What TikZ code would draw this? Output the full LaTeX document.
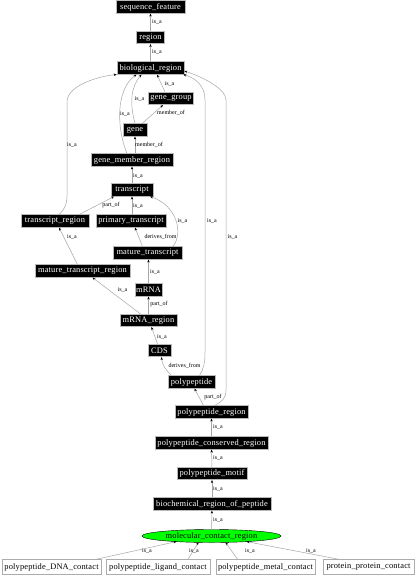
\documentclass[tikz,border=0pt]{standalone}
\usepackage{fontspec}
\setmainfont{Liberation Serif}
\newfontfamily\boxfont[LetterSpace=2]{Liberation Serif}
\usetikzlibrary{arrows.meta,shapes.geometric,calc}
\begin{document}
\begin{tikzpicture}[x=1pt,y=-1pt,
  blk/.style={rectangle,fill=black,draw=gray!55,line width=0.6pt,text=white,font=\boxfont\fontsize{8.4}{9}\selectfont,minimum height=12.5pt,inner sep=0pt},
  wht/.style={rectangle,fill=white,draw=gray!65,line width=0.6pt,text=black,font=\boxfont\fontsize{8.4}{9}\selectfont,minimum height=15pt,inner sep=0pt},
  grn/.style={ellipse,fill=green,draw=black,line width=0.4pt,font=\boxfont\fontsize{8.4}{9}\selectfont,minimum width=139pt,minimum height=13pt,inner sep=0pt},
  edge/.style={draw=gray!70,line width=0.5pt,-{Stealth[length=3pt,width=2.4pt,black]}},
  lbl/.style={font=\fontsize{6}{7}\selectfont,inner sep=0pt}]
\useasboundingbox[fill=white] (0,0) rectangle (417,576);

% nodes
\node[blk,minimum width=69pt] (sf) at (150.5,7) {sequence\_feature};
\node[blk,minimum width=28pt] (region) at (150.5,37.5) {region};
\node[blk,minimum width=67pt] (bio) at (150.5,68) {biological\_region};
\node[blk,minimum width=45pt] (gg) at (171,98.5) {gene\_group};
\node[blk,minimum width=24pt] (gene) at (135,130) {gene};
\node[blk,minimum width=82pt] (gmr) at (132,160) {gene\_member\_region};
\node[blk,minimum width=42pt] (transcript) at (132,190) {transcript};
\node[blk,minimum width=68pt] (tr) at (55,221) {transcript\_region};
\node[blk,minimum width=70pt] (pt) at (131,221) {primary\_transcript};
\node[blk,minimum width=69pt] (mt) at (147.5,253) {mature\_transcript};
\node[blk,minimum width=95pt] (mtr) at (82.5,271) {mature\_transcript\_region};
\node[blk,minimum width=27pt] (mrna) at (148.5,290) {mRNA};
\node[blk,minimum width=57pt] (mrr) at (148.5,320.5) {mRNA\_region};
\node[blk,minimum width=23pt] (cds) at (159.5,350.5) {CDS};
\node[blk,minimum width=47pt] (pp) at (191.5,382) {polypeptide};
\node[blk,minimum width=73pt] (pr) at (211.5,412) {polypeptide\_region};
\node[blk,minimum width=113pt] (pcr) at (211.5,443) {polypeptide\_conserved\_region};
\node[blk,minimum width=70pt] (pm) at (212,473.5) {polypeptide\_motif};
\node[blk,minimum width=118pt] (brp) at (212,504) {biochemical\_region\_of\_peptide};
\node[grn] (mcr) at (211.5,536) {molecular\_contact\_region};
\node[wht,minimum width=99pt] (b1) at (51.5,567) {polypeptide\_DNA\_contact};
\node[wht,minimum width=104pt] (b2) at (158,567) {polypeptide\_ligand\_contact};
\node[wht,minimum width=99pt] (b3) at (265.5,567) {polypeptide\_metal\_contact};
\node[wht,minimum width=91pt] (b4) at (368.5,567) {protein\_protein\_contact};

% waypoints
\coordinate (w1) at (67,196);
\coordinate (w2) at (67,102);
\coordinate (w3) at (205,352);
\coordinate (w4) at (205,100);
\coordinate (w5) at (226,390);
\coordinate (w6) at (226,100);

% edges
\draw[edge] (region) -- (sf);
\draw[edge] (bio) -- (region);
\draw[edge] ($(gg.north)+(-6,0)$) -- ($(bio.south)+(6.5,0)$);
\draw[edge] (gene.north) .. controls (130,105) and (130,88) .. ($(bio.south)+(-9,0)$);
\draw[edge] ($(gmr.north)+(-5,0)$) .. controls (117,130) and (115,90) .. ($(bio.south)+(-14,0)$);
\draw[edge] ($(gene.north east)+(-5,0)$) -- ($(gg.south)+(-8,0)$);
\draw[edge] ($(gmr.north)+(3,0)$) -- (gene.south);
\draw[edge] (transcript) -- (gmr);
\draw[edge] ($(tr.north)+(4,0)$) .. controls (66,208) and (67,202) .. (w1) -- (w2) .. controls (67,85) and (100,76) .. (bio.south west);
\draw[edge] ($(tr.north east)+(-10,0)$) -- ($(transcript.south)+(-18,0)$);
\draw[edge] (pt.north -| transcript) -- (transcript);
\draw[edge] ($(mt.north)+(-5,0)$) -- ($(pt.south)+(4,0)$);
\draw[edge] ($(mt.north)+(25.5,0)$) .. controls (184,232) and (176,205) .. ($(transcript.south)+(18,0)$);
\draw[edge] ($(mtr.north)+(-5,0)$) -- ($(tr.south)+(4,0)$);
\draw[edge] (mrna) -- (mt.south -| mrna);
\draw[edge] (mrr) -- (mrna);
\draw[edge] ($(mrr.north)+(-8,0)$) -- ($(mtr.south)+(10,0)$);
\draw[edge] ($(cds.north)+(-2,0)$) -- ($(mrr.south)+(3,0)$);
\draw[edge] ($(pp.north)+(-20,0)$) .. controls (166,370) and (162,365) .. ($(cds.south)+(2,0)$);
\draw[edge] ($(pp.north)+(8,0)$) .. controls (204,368) and (205,362) .. (w3) -- (w4) .. controls (205,85) and (195,78) .. ($(bio.south east)+(-1,0)$);
\draw[edge] ($(pr.north)+(-8,0)$) -- ($(pp.south)+(3,0)$);
\draw[edge] ($(pr.north)+(3,0)$) .. controls (222,402) and (226,398) .. (w5) -- (w6) .. controls (226,88) and (200,76) .. ($(bio.east)+(0,3)$);
\draw[edge] (pcr) -- (pr);
\draw[edge] (pm) -- (pcr);
\draw[edge] (brp) -- (pm);
\draw[edge] (mcr) -- (brp);
\draw[edge] ($(b1.north)+(45,0)$) -- ($(mcr.center)+(-35,5.6)$);
\draw[edge] ($(b2.north)+(30,0)$) -- ($(mcr.center)+(-13,6.3)$);
\draw[edge] ($(b3.north)+(-28,0)$) -- ($(mcr.center)+(14,6.3)$);
\draw[edge] ($(b4.north)+(-30,0)$) -- ($(mcr.center)+(35,5.6)$);

% labels
\node[lbl] (l1) at (157,22) {is\_a};
\node[lbl] (l2) at (157,52) {is\_a};
\node[lbl] (l3) at (169.5,84) {is\_a};
\node[lbl] (l4) at (139.5,99) {is\_a};
\node[lbl] (l5) at (125,114) {is\_a};
\node[lbl] (l6) at (171,113) {member\_of};
\node[lbl] (l7) at (149,145) {member\_of};
\node[lbl] (l8) at (72,145) {is\_a};
\node[lbl] (l9) at (138,176) {is\_a};
\node[lbl] (l10) at (111,205.5) {part\_of};
\node[lbl] (l11) at (138,206) {is\_a};
\node[lbl] (l12) at (182.5,221) {is\_a};
\node[lbl] (l13) at (212,221) {is\_a};
\node[lbl] (l14) at (160.5,237) {derives\_from};
\node[lbl] (l15) at (72,237) {is\_a};
\node[lbl] (l16) at (232.5,237) {is\_a};
\node[lbl] (l17) at (155,271.5) {is\_a};
\node[lbl] (l18) at (122.5,290) {is\_a};
\node[lbl] (l19) at (159,304.5) {part\_of};
\node[lbl] (l20) at (162,336.5) {is\_a};
\node[lbl] (l21) at (184.5,366) {derives\_from};
\node[lbl] (l22) at (213,397) {part\_of};
\node[lbl] (l23) at (218,427) {is\_a};
\node[lbl] (l24) at (218,458) {is\_a};
\node[lbl] (l25) at (218,489) {is\_a};
\node[lbl] (l26) at (218,519.5) {is\_a};
\node[lbl] (l27) at (147,551) {is\_a};
\node[lbl] (l28) at (194,551) {is\_a};
\node[lbl] (l29) at (250,551) {is\_a};
\node[lbl] (l30) at (311,551) {is\_a};
\end{tikzpicture}
\end{document}
